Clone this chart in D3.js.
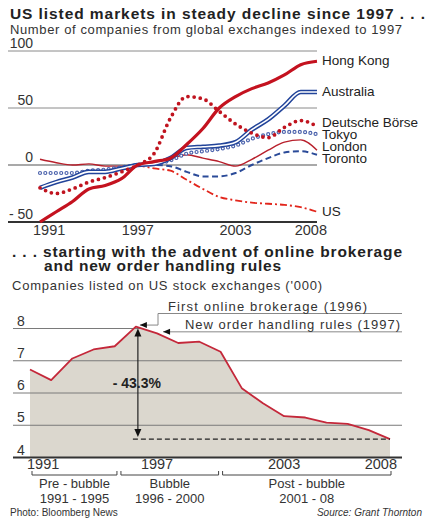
<!DOCTYPE html>
<html>
<head>
<meta charset="utf-8">
<script src="https://cdn.jsdelivr.net/npm/d3@7"></script>
<style>
body { margin: 0; background: #fff; }
svg text { font-family: 'Liberation Sans', Arial, sans-serif; fill: #222; }
</style>
</head>
<body>
<div id="chart"></div>
<script>
// top chart: index of listed companies, 1997 = 0
const years = [1991, 1992, 1993, 1994, 1995, 1996, 1997, 1998, 1999, 2000, 2001, 2002, 2003, 2004, 2005, 2006, 2007, 2008];
const hongKong  = [-50, -41, -32, -21, -18, -12, 0, 3, 6, 18, 32, 50, 60, 67, 72, 79, 88, 91];
const australia = [-20, -15, -11, -6, -6, -3, 0, 1, 6, 15, 16, 17, 20, 31, 40, 52, 64, 64];
const deutsche  = [-20, -25, -21, -15, -11, -6, 0, 10, 41, 60, 58, 47, 36, 28, 24, 33, 39, 34];
const tokyo     = [-7, -7, -7, -5, -4, -2, 0, 1, 4, 10, 12, 14, 17, 23, 27, 29, 29, 27];
const london    = [5, 2, 0, 1, -1, -1, 0, 3, 6, 9, 6, 3, -1, 5, 13, 20, 22, 13];
const toronto   = [null, null, null, null, null, null, 0, 0, -1, -6, -10, -10, -7, 0, 6, 11, 12, 9];
const us        = [null, null, null, null, null, null, 0, -3, -5, -13, -21, -28, -31, -33, -34, -35, -37, -41];
const topTicks = [100, 50, 0, -50];
const yearTicks = [1991, 1997, 2003, 2008];

// bottom chart: companies listed on US exchanges ('000)
const listed = [6.73, 6.40, 7.07, 7.35, 7.45, 8.06, 7.85, 7.55, 7.59, 7.28, 6.15, 5.68, 5.28, 5.24, 5.08, 5.04, 4.85, 4.57];
const bottomTicks = [8, 7, 6, 5, 4];
const periodNames = ['Pre - bubble', 'Bubble', 'Post - bubble'];
const periodYears = ['1991 - 1995', '1996 - 2000', '2001 - 08'];
const periodEdges = [1991, 1995.2, 2000, 2008];

const W = 432, H = 521;
const svg = d3.select('#chart').append('svg')
    .attr('width', W)
    .attr('height', H)
    .attr('viewBox', '0 0 ' + W + ' ' + H)
    .style('background', '#fff');

// headings
svg.append('text').attr('x', 10).attr('y', 19)
    .attr('textLength', 415)
    .style('font-size', '15.5px').style('font-weight', 'bold')
    .text('US listed markets in steady decline since 1997 . . .');
svg.append('text').attr('x', 10).attr('y', 34)
    .attr('textLength', 392)
    .style('font-size', '13px').style('fill', '#333')
    .text('Number of companies from global exchanges indexed to 1997');

// ---- top chart ----
const x1 = d3.scaleLinear().domain([1991, 2008]).range([40, 317]);
const y1 = d3.scaleLinear().domain([-50, 100]).range([222, 51]);

const topG = svg.append('g');
topTicks.forEach(function (t) {
    topG.append('line')
        .attr('x1', 8).attr('x2', 317)
        .attr('y1', y1(t)).attr('y2', y1(t))
        .attr('stroke', t === -50 ? '#333' : (t === 0 ? '#555' : '#8a8a8a'))
        .attr('stroke-width', t === -50 ? 1.8 : (t === 0 ? 1.2 : 1));
    topG.append('text')
        .attr('x', 33).attr('y', y1(t) - 3.5)
        .attr('text-anchor', 'end')
        .style('font-size', '14px').style('fill', '#333')
        .text(t < 0 ? '- ' + Math.abs(t) : t);
});

yearTicks.forEach(function (yr, i) {
    let anchor = 'middle', xx = x1(yr);
    if (i === 0) { anchor = 'start'; xx -= 7; }
    if (i === yearTicks.length - 1) { anchor = 'end'; xx += 10; }
    topG.append('text')
        .attr('x', xx).attr('y', 235)
        .attr('text-anchor', anchor)
        .style('font-size', '14.5px').style('fill', '#333')
        .text(yr);
});

const line1 = d3.line()
    .defined(function (d) { return d != null; })
    .x(function (d, i) { return x1(years[i]); })
    .y(function (d) { return y1(d); })
    .curve(d3.curveMonotoneX);

function draw(values, stroke, width, dash, cap) {
    return topG.append('path')
        .attr('d', line1(values))
        .attr('fill', 'none')
        .attr('stroke', stroke)
        .attr('stroke-width', width)
        .attr('stroke-dasharray', dash || null)
        .attr('stroke-linecap', cap || 'butt')
        .attr('stroke-linejoin', 'round');
}

draw(toronto, '#2a4a98', 2, '6 3.5');
draw(us, '#e2261c', 1.8, '7 3 2 3');
draw(london, '#b8202c', 1.4);
draw(tokyo, '#4d64ad', 4.2, '0 5.3', 'round');
draw(tokyo, '#fff', 1.8, '0 5.3', 'round');
draw(australia, '#22449a', 4.6);
draw(australia, '#fff', 1.6);
draw(deutsche, '#c0141f', 3.8, '0 6.2', 'round');
draw(hongKong, '#c4121f', 3.2);

// end labels, nudged apart where they crowd
let labels = [
    { name: 'Hong Kong', v: hongKong },
    { name: 'Australia', v: australia },
    { name: 'Deutsche Börse', v: deutsche },
    { name: 'Tokyo', v: tokyo },
    { name: 'London', v: london },
    { name: 'Toronto', v: toronto },
    { name: 'US', v: us }
];
labels.forEach(function (d) { d.y = y1(d.v[d.v.length - 1]) + 4; });
labels.sort(function (a, b) { return a.y - b.y; });
for (let k = 0; k < 60; k++) {
    for (let i = 1; i < labels.length; i++) {
        let gap = labels[i].y - labels[i - 1].y;
        if (gap < 12) {
            labels[i].y += (12 - gap) / 2;
            labels[i - 1].y -= (12 - gap) / 2;
        }
    }
}
labels.forEach(function (d) {
    topG.append('text')
        .attr('x', 322).attr('y', d.y)
        .style('font-size', '13.5px')
        .text(d.name);
});

// ---- bottom chart ----
const head2 = svg.append('text')
    .style('font-size', '15.5px').style('font-weight', 'bold');
head2.append('tspan').attr('x', 12).attr('y', 257)
    .attr('textLength', 390)
    .text('. . . starting with the advent of online brokerage');
head2.append('tspan').attr('x', 44).attr('y', 270.5)
    .attr('textLength', 237)
    .text('and new order handling rules');
svg.append('text').attr('x', 12).attr('y', 290)
    .attr('textLength', 310)
    .style('font-size', '13px').style('fill', '#333')
    .text("Companies listed on US stock exchanges ('000)");

const x2 = d3.scaleLinear().domain([1991, 2008]).range([30, 390]);
const y2 = d3.scaleLinear().domain([4, 8]).range([457.5, 328.5]);
const bot = svg.append('g');

const area2 = d3.area()
    .x(function (d, i) { return x2(years[i]); })
    .y0(y2(4))
    .y1(function (d) { return y2(d); });
const line2 = d3.line()
    .x(function (d, i) { return x2(years[i]); })
    .y(function (d) { return y2(d); });

bot.append('path').attr('d', area2(listed)).attr('fill', '#dbd7ce');

const peakIdx = listed.indexOf(d3.max(listed));
const lastIdx = listed.length - 1;
const px = x2(years[peakIdx]), py = y2(listed[peakIdx]);

bottomTicks.forEach(function (t) {
    let xEnd = t === 8 ? px + 4 : 402;
    bot.append('line')
        .attr('x1', 13).attr('x2', xEnd)
        .attr('y1', y2(t)).attr('y2', y2(t))
        .attr('stroke', t === 4 ? '#333' : '#7a7a7a')
        .attr('stroke-width', t === 4 ? 1.8 : 1);
    bot.append('text')
        .attr('x', 17).attr('y', y2(t) - 3)
        .style('font-size', '14px').style('fill', '#333')
        .text(t);
});

bot.append('path').attr('d', line2(listed))
    .attr('fill', 'none').attr('stroke', '#c4283a').attr('stroke-width', 1.8)
    .attr('stroke-linejoin', 'round');

// drop from peak to 2008
const ly = y2(listed[lastIdx]);
const ax = px + 2;
bot.append('line')
    .attr('x1', ax - 5).attr('x2', x2(years[lastIdx]))
    .attr('y1', ly).attr('y2', ly)
    .attr('stroke', '#222').attr('stroke-width', 1.2).attr('stroke-dasharray', '5 3');
bot.append('line')
    .attr('x1', ax).attr('x2', ax)
    .attr('y1', py + 8).attr('y2', ly - 9)
    .attr('stroke', '#222').attr('stroke-width', 1.2);
bot.append('path')
    .attr('d', 'M' + ax + ',' + (py + 2) + 'l-3.5,8h7z')
    .attr('fill', '#111');
bot.append('path')
    .attr('d', 'M' + ax + ',' + (ly - 2) + 'l-3.5,-8h7z')
    .attr('fill', '#111');
const drop = (listed[lastIdx] / listed[peakIdx] - 1) * 100;
bot.append('text')
    .attr('x', ax - 1).attr('y', 388)
    .attr('text-anchor', 'middle')
    .style('font-size', '14px').style('font-weight', 'bold')
    .text('- ' + d3.format('.1f')(Math.abs(drop)) + '%');

// callouts
const c1x = px + 4, c1y = py - 1.5;
bot.append('path')
    .attr('d', 'M' + c1x + ',' + c1y + 'H158V313.5H402')
    .attr('fill', 'none').attr('stroke', '#888').attr('stroke-width', 1);
bot.append('path')
    .attr('d', 'M' + c1x + ',' + c1y + 'l7,-3v6z').attr('fill', '#111');
bot.append('text').attr('x', 168).attr('y', 310.5)
    .attr('textLength', 199)
    .style('font-size', '13px').style('fill', '#333')
    .text('First  online brokerage (1996)');

const c2x = x2(years[peakIdx + 1]) + 6, c2y = y2(listed[peakIdx + 1]) - 1.5;
bot.append('path')
    .attr('d', 'M' + c2x + ',' + c2y + 'H402')
    .attr('fill', 'none').attr('stroke', '#888').attr('stroke-width', 1);
bot.append('path')
    .attr('d', 'M' + c2x + ',' + c2y + 'l7,-3v6z').attr('fill', '#111');
bot.append('text').attr('x', 185).attr('y', 329)
    .attr('textLength', 215)
    .style('font-size', '13px').style('fill', '#333')
    .text('New order handling rules (1997)');

// year labels
yearTicks.forEach(function (yr, i) {
    let anchor = 'middle', xx = x2(yr);
    if (i === 0) { anchor = 'start'; xx -= 3; }
    if (i === yearTicks.length - 1) { anchor = 'end'; xx += 7; }
    bot.append('text')
        .attr('x', xx).attr('y', 468.5)
        .attr('text-anchor', anchor)
        .style('font-size', '14.5px').style('fill', '#333')
        .text(yr);
});

// period brackets
periodNames.forEach(function (name, i) {
    let a = x2(periodEdges[i]) + 2;
    let b = i === periodNames.length - 1 ? x2(periodEdges[i + 1]) + 1 : x2(periodEdges[i + 1]) - 2;
    bot.append('path')
        .attr('d', 'M' + a + ',471V475H' + b + 'V471')
        .attr('fill', 'none').attr('stroke', '#444').attr('stroke-width', 1);
    bot.append('text')
        .attr('x', (a + b) / 2).attr('y', 488)
        .attr('text-anchor', 'middle')
        .style('font-size', '13px').style('fill', '#333')
        .text(name);
    bot.append('text')
        .attr('x', (a + b) / 2).attr('y', 503)
        .attr('text-anchor', 'middle')
        .style('font-size', '13px').style('fill', '#333')
        .text(periodYears[i]);
});

// footer
svg.append('text').attr('x', 10).attr('y', 516)
    .style('font-size', '10px').style('fill', '#333')
    .text('Photo: Bloomberg News');
svg.append('text').attr('x', 422).attr('y', 516)
    .attr('text-anchor', 'end')
    .style('font-size', '10px').style('font-style', 'italic').style('fill', '#333')
    .text('Source: Grant Thornton');
</script>
</body>
</html>
